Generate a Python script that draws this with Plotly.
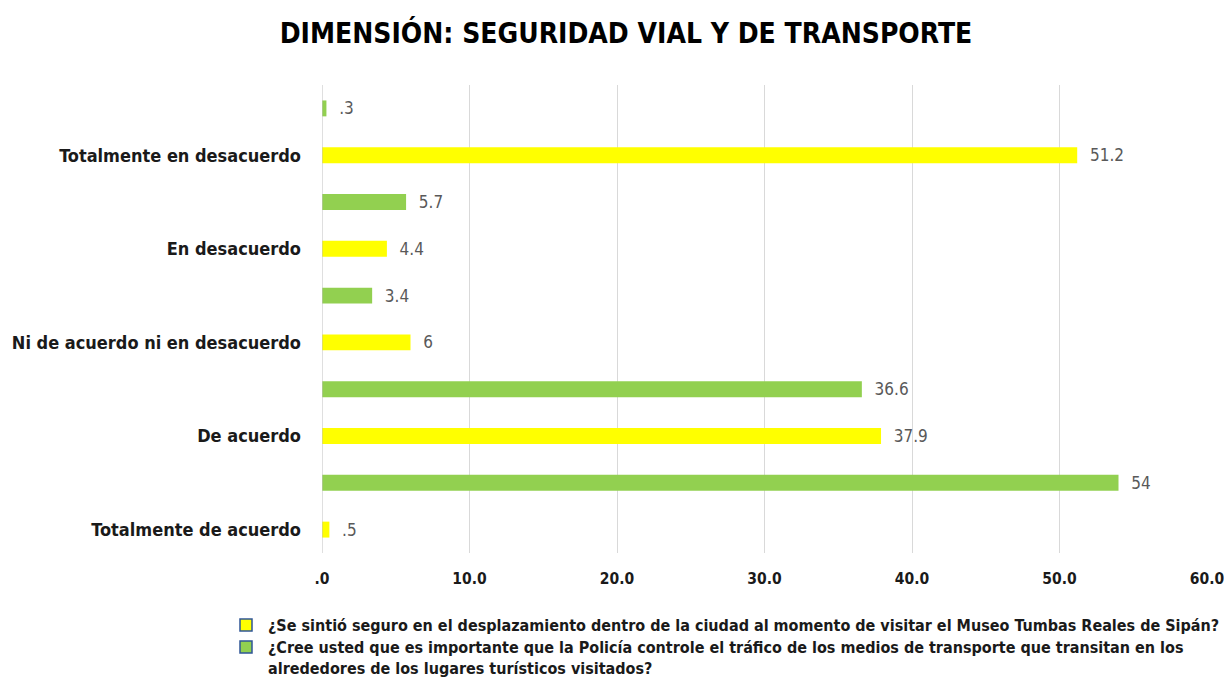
import plotly.graph_objects as go

categories = ["Totalmente de acuerdo", "De acuerdo", "Ni de acuerdo ni en desacuerdo",
              "En desacuerdo", "Totalmente en desacuerdo"]
q1_values = [0.5, 37.9, 6, 4.4, 51.2]
q2_values = [54, 36.6, 3.4, 5.7, 0.3]
q1_name = "¿Se sintió seguro en el desplazamiento dentro de la ciudad al momento de visitar el Museo Tumbas Reales de Sipán?"
q2_name = "¿Cree usted que es importante que la Policía controle el tráfico de los medios de transporte que transitan en los<br>alrededores de los lugares turísticos visitados?"
x_ticks = [0, 10, 20, 30, 40, 50, 60]

FONT = "DejaVu Sans Condensed, sans-serif"
YELLOW = "#FFFF00"
GREEN = "#92D050"

# page body has an 8px margin: the figure is sized/positioned to compensate
OFF = 8
W, H = 1232 - OFF, 680 - OFF
ML, MR, MT, MB = 322 - OFF, 1232 - 1207, 85 - OFF, 680 - 553
PW, PH = W - ML - MR, H - MT - MB


def px_x(px):  # screen pixel -> paper x
    return (px - OFF - ML) / PW


def px_y(py):  # screen pixel -> paper y
    return (H - MB - (py - OFF)) / PH


def fmt(v, dec=None):
    s = f"{v:.{dec}f}" if dec is not None else f"{v:g}"
    if s.startswith("0."):
        s = s[1:]
    return s


pos_q1 = [2 * i for i in range(len(categories))]
pos_q2 = [2 * i + 1 for i in range(len(categories))]

fig = go.Figure()
for pos, vals, col, nm in ((pos_q1, q1_values, YELLOW, q1_name), (pos_q2, q2_values, GREEN, q2_name)):
    fig.add_trace(go.Bar(
        y=pos, x=vals, orientation="h", width=0.34, name=nm.replace("<br>", " "),
        marker=dict(color=col, line=dict(width=0)),
        text=["  " + fmt(v) for v in vals], textposition="outside",
        constraintext="none",
        textfont=dict(family=FONT, size=17, color="#595959"),
        cliponaxis=False, showlegend=False, hoverinfo="x"))

fig.update_layout(
    width=W, height=H,
    margin=dict(l=ML, r=MR, t=MT, b=MB, autoexpand=False),
    paper_bgcolor="white", plot_bgcolor="white",
    barmode="overlay", showlegend=False,
    font=dict(family=FONT, color="#1a1a1a"),
    title=dict(text="<b>DIMENSIÓN: SEGURIDAD VIAL Y DE TRANSPORTE</b>",
               x=(626 - OFF) / W, xanchor="center", y=1 - (33 - OFF) / H, yanchor="middle",
               font=dict(family=FONT, size=28, color="#000000")),
    xaxis=dict(range=[0, 60], tickvals=x_ticks, automargin=False,
               ticktext=["<b>" + fmt(t, 1) + "</b>" for t in x_ticks],
               showgrid=True, gridcolor="#D9D9D9", gridwidth=1,
               zeroline=False, showline=False, ticks="",
               ticklabelstandoff=14,
               tickfont=dict(family=FONT, size=15.5, color="#1a1a1a")),
    yaxis=dict(range=[-0.5, 9.5], tickvals=pos_q1, automargin=False,
               ticktext=["<b>" + c + "</b>" for c in categories],
               showgrid=False, zeroline=False, showline=False, ticks="",
               ticklabelstandoff=20,
               tickfont=dict(family=FONT, size=18, color="#1a1a1a")),
)
fig.add_shape(type="line", xref="x", yref="paper", x0=0, x1=0, y0=0, y1=1,
              line=dict(color="#BFBFBF", width=1))

# manual legend (markers + text)
for py, col, nm in ((625, YELLOW, q1_name), (647, GREEN, q2_name)):
    fig.add_shape(type="rect", xref="paper", yref="paper",
                  x0=px_x(240), x1=px_x(252), y0=px_y(py + 6), y1=px_y(py - 6),
                  fillcolor=col, line=dict(color="#2F5597", width=1.5))
    fig.add_annotation(xref="paper", yref="paper", x=px_x(266), y=px_y(py - 11),
                       xanchor="left", yanchor="top", align="left", showarrow=False,
                       text="<b>" + nm + "</b>",
                       font=dict(family=FONT, size=16, color="#1a1a1a"))

fig.write_html("out.html")
